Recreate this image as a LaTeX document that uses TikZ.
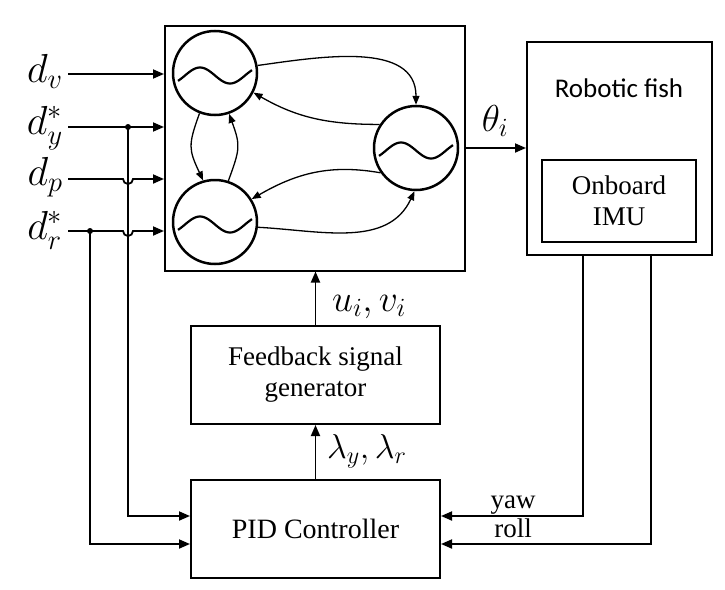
\RequirePackage{fix-cm}
\documentclass[tikz,border=0pt]{standalone}
\usepackage{graphicx}
\usepackage{fontspec}
\setmainfont{Liberation Serif}
\newfontfamily\calib{Carlito}
\usetikzlibrary{arrows.meta}
\begin{document}
\begin{tikzpicture}[x=1pt,y=-1pt,
  box/.style={draw,line width=2pt,inner sep=0pt,align=center,font=\fontsize{27}{31}\selectfont},
  osc/.style={circle,draw,line width=2.5pt,minimum size=84pt,inner sep=0pt},
  conn/.style={line width=1.8pt,-{Triangle[length=11pt,width=9pt]}},
  link/.style={line width=1.3pt,-{Triangle[length=9pt,width=7pt]}},
  mlab/.style={font=\fontsize{30}{32}\selectfont,inner sep=0pt},
  tlab/.style={font=\fontsize{27}{31}\selectfont,inner sep=0pt},
  wave/.style={line width=2.2pt},
  junc/.style={circle,fill,inner sep=0pt,minimum size=6pt}
]
\useasboundingbox (0,0) rectangle (725,589);

% boxes
\node[box,minimum width=300pt,minimum height=245pt] (osc) at (315,148) {};
\node[box,minimum width=185pt,minimum height=213pt] (fish) at (619.5,148.5) {};
\node[font=\calib\fontsize{27}{30}\selectfont] (fishlab) at (619,88) {Robotic fish};
\node[box,minimum width=154pt,minimum height=82pt] (imu) at (619,201) {Onboard\\IMU};
\node[box,minimum width=249pt,minimum height=98pt] (fb) at (315.5,375) {Feedback signal\\generator};
\node[box,minimum width=249pt,minimum height=98pt,font=\fontsize{28}{31}\selectfont] (pid) at (315.5,529) {PID Controller};

% oscillators
\node[osc] (c1) at (215,73) {};
\node[osc] (c2) at (215,222) {};
\node[osc] (c3) at (416,148) {};
\foreach \c in {c1,c2,c3}{
  \begin{scope}[shift={(\c.center)}]
    \draw[wave] plot[domain=-37:37,samples=60,smooth] (\x,{2.5+8*sin(6*\x)});
  \end{scope}
}

% links between oscillators
\draw[link] (c1.10) to[out=8,in=90] (c3.north);
\draw[link] (c3.147) to[out=180,in=-30] (c1.-27);
\draw[link] (c3.-145) to[out=170,in=30] (c2.32);
\draw[link] (c2.-7) to[out=-3,in=-115] (c3.-92);
\draw[link] (c1.-111) to[out=-110,in=115,looseness=1.3] (c2.106);
\draw[link] (c2.72) to[out=70,in=-70,looseness=1.3] (c1.-71);

% inputs
\coordinate (sv) at (68,74);
\coordinate (sy) at (68,127);
\coordinate (sp) at (68,179);
\coordinate (sr) at (68,231);
\node[mlab,anchor=base east] (lv) at (63,82) {\scalebox{1.35}{$d_v$}};
\node[mlab,anchor=base east] (ly) at (63,134) {\scalebox{1.35}{$d_y^*$}};
\node[mlab,anchor=base east] (lp) at (63,185) {\scalebox{1.35}{$d_p$}};
\node[mlab,anchor=base east] (lr) at (63,239) {\scalebox{1.35}{$d_r^*$}};

\draw[conn] (sv) -- (sv -| osc.west);
\draw[conn] (sy) -- (sy -| osc.west);
\draw[conn] (sp) -- (123,179) arc[start angle=180,end angle=0,radius=5] -- (sp -| osc.west);
\draw[conn] (sr) -- (123,231) arc[start angle=180,end angle=0,radius=5] -- (sr -| osc.west);

\node[junc] (jy) at (128,127) {};
\node[junc] (jr) at (90,231) {};
\coordinate (py) at (pid.west |- 0,516);
\coordinate (pr) at (pid.west |- 0,544);
\draw[conn] (jy.center) -- (jy.center |- py) -- (py);
\draw[conn] (jr.center) -- (jr.center |- pr) -- (pr);

% theta
\draw[conn] (osc.east |- c3) -- (fish.west |- c3);
\node[mlab] (lth) at (495,121) {\scalebox{1.25}{$\theta_i$}};

% feedback chain
\draw[conn] (fb.north) -- (fb.north |- osc.south);
\node[mlab,anchor=base west] (luv) at (332,311) {\scalebox{1.25}{$u_i,v_i$}};
\draw[conn] (pid.north) -- (fb.south);
\node[mlab,anchor=base west] (llam) at (327,458) {\scalebox{1.15}{$\lambda_y,\lambda_r$}};

% sensor feedback
\coordinate (yawtop) at (583,255);
\coordinate (rolltop) at (651,255);
\coordinate (pyaw) at (pid.east |- 0,516);
\coordinate (proll) at (pid.east |- 0,544);
\draw[conn] (yawtop) -- (yawtop |- pyaw) -- (pyaw);
\draw[conn] (rolltop) -- (rolltop |- proll) -- (proll);
\node[tlab,anchor=base] (lyaw) at (513,508) {yaw};
\node[tlab,anchor=base] (lroll) at (513,537) {roll};
\end{tikzpicture}
\end{document}
